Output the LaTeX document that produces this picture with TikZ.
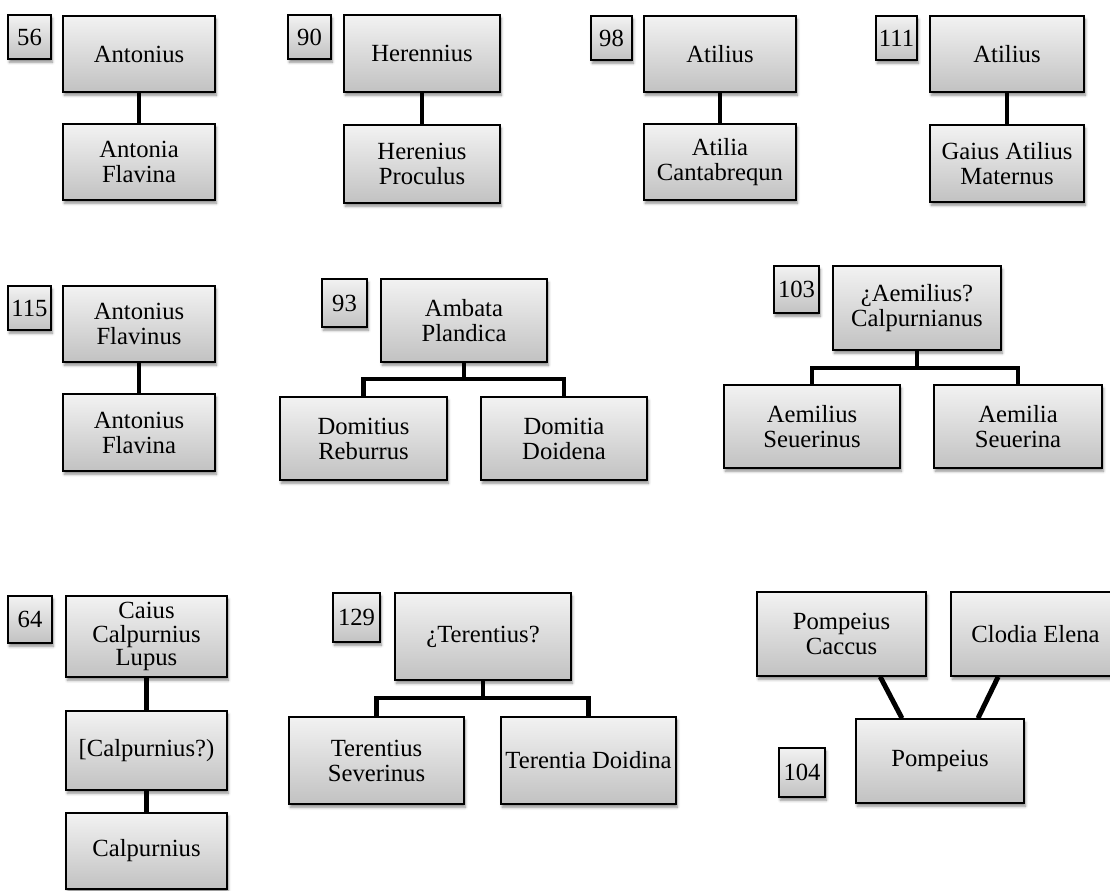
\documentclass[tikz,border=0pt]{standalone}
\usepackage{fontspec}
\setmainfont{Liberation Serif}
\usetikzlibrary{shadows.blur}
\tikzset{
  box/.style={draw=black, line width=1.1pt, rectangle, inner sep=0pt,
    align=center, top color=gray!10, bottom color=gray!48,
    blur shadow={shadow xshift=1pt, shadow yshift=-2.5pt,
      shadow blur radius=2pt, shadow opacity=45},
    font=\fontsize{18.5}{18.8}\selectfont},
  sz/.style 2 args={minimum width=#1*0.75pt, minimum height=#2*0.75pt},
  link/.style={draw=black, line width=3.7pt}
}
\begin{document}
\begin{tikzpicture}[x=0.75pt, y=-0.75pt]
\useasboundingbox (0,0) rectangle (1110,891);

\node[box, sz={43}{44}] (n56) at (29.5,37) {56};
\node[box, sz={152}{76}] (a1) at (139,54) {Antonius};
\node[box, sz={152}{76}] (a2) at (139,162) {Antonia\\Flavina};

\node[box, sz={43}{44}] (n90) at (309.5,37) {90};
\node[box, sz={156}{77}] (h1) at (422,53.5) {Herennius};
\node[box, sz={156}{78}] (h2) at (422,164) {Herenius\\Proculus};

\node[box, sz={41}{44}] (n98) at (611.5,38) {98};
\node[box, sz={152}{76}] (t1) at (720,54) {Atilius};
\node[box, sz={152}{76}] (t2) at (720,162) {Atilia\\Cantabrequn};

\node[box, sz={41}{44}] (n111) at (896.5,38) {111};
\node[box, sz={154}{76}] (g1) at (1007,54) {Atilius};
\node[box, sz={154}{77}] (g2) at (1007,163.5) {Gaius Atilius\\Maternus};

\node[box, sz={43}{44}] (n115) at (29.5,308) {115};
\node[box, sz={152}{76}] (f1) at (139,324) {Antonius\\Flavinus};
\node[box, sz={152}{77}] (f2) at (139,432.5) {Antonius\\Flavina};

\node[box, sz={45}{48}] (n93) at (344.5,303) {93};
\node[box, sz={166}{83}] (p1) at (464,320.5) {Ambata\\Plandica};
\node[box, sz={167}{83}] (p2) at (363.5,438.5) {Domitius\\Reburrus};
\node[box, sz={166}{83}] (p3) at (564,438.5) {Domitia\\Doidena};

\node[box, sz={45}{47}] (n103) at (796.5,289.5) {103};
\node[box, sz={168}{84}] (e1) at (917,308) {¿Aemilius?\\Calpurnianus};
\node[box, sz={176}{83}] (e2) at (812,426.5) {Aemilius\\Seuerinus};
\node[box, sz={168}{83}] (e3) at (1018,426.5) {Aemilia\\Seuerina};

\node[box, sz={44}{47}] (n64) at (30,619.5) {64};
\node[box, sz={161}{81}, font=\fontsize{18.5}{17.3}\selectfont] (c1) at (146.5,636.5) {Caius\\Calpurnius\\Lupus};
\node[box, sz={161}{79}] (c2) at (146.5,750.5) {[Calpurnius?)};
\node[box, sz={161}{76}] (c3) at (146.5,851) {Calpurnius};

\node[box, sz={47}{49}] (n129) at (356.5,617.5) {129};
\node[box, sz={176}{87}] (r1) at (483,636.5) {¿Terentius?};
\node[box, sz={175}{87}] (r2) at (376.5,760.5) {Terentius\\Severinus};
\node[box, sz={175}{87}] (r3) at (588.5,760.5) {Terentia Doidina};

\node[box, sz={169}{84}] (q1) at (841.5,634) {Pompeius\\Caccus};
\node[box, sz={169}{84}] (q2) at (1035.5,634) {Clodia Elena};
\node[box, sz={168}{84}] (q3) at (940,761) {Pompeius};
\node[box, sz={46}{49}] (n104) at (802,772.5) {104};

\draw[link] (a1) -- (a2);
\draw[link] (h1) -- (h2);
\draw[link] (t1) -- (t2);
\draw[link] (g1) -- (g2);
\draw[link] (f1) -- (f2);
\draw[link] (c1) -- (c2);
\draw[link] (c2) -- (c3);

\coordinate (pb) at (464,379);
\draw[link] (p1.south) -- (pb);
\draw[link] (p2.north) |- (pb) -| (p3.north);

\coordinate (eb) at (917,368);
\draw[link] (e1.south) -- (eb);
\draw[link] (e2.north) |- (eb) -| (e3.north);

\coordinate (rb) at (483,698);
\draw[link] (r1.south) -- (rb);
\draw[link] (r2.north) |- (rb) -| (r3.north);

\draw[link] ([xshift=29pt]q1.south) -- ([xshift=-28.5pt]q3.north);
\draw[link] ([xshift=-28pt]q2.south) -- ([xshift=28.5pt]q3.north);
\end{tikzpicture}
\end{document}
